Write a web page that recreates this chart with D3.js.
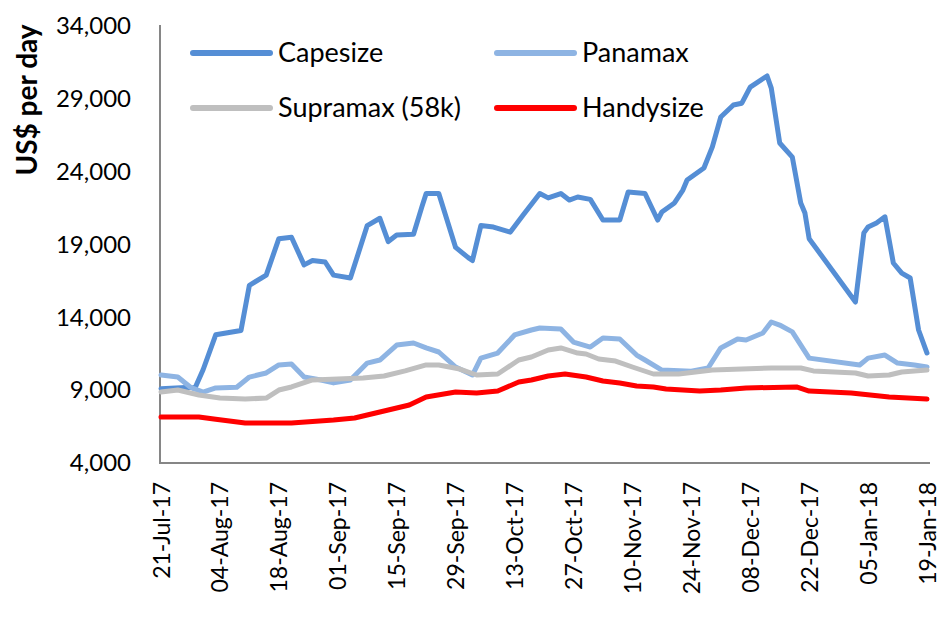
<!DOCTYPE html>
<html>
<head>
<meta charset="utf-8">
<script src="https://cdn.jsdelivr.net/npm/d3@7"></script>
<style>
	body { margin: 0; background: #fff; }
	svg { display: block; font-family: Lato, "Open Sans", sans-serif; }
</style>
</head>
<body>
<svg id="chart" width="948" height="619"></svg>
<script>
// tick labels of the category axis (every 14 days)
var xTickLabels = ["21-Jul-17", "04-Aug-17", "18-Aug-17", "01-Sep-17", "15-Sep-17", "29-Sep-17",
	"13-Oct-17", "27-Oct-17", "10-Nov-17", "24-Nov-17", "08-Dec-17", "22-Dec-17", "05-Jan-18", "19-Jan-18"];
var yTicks = [4000, 9000, 14000, 19000, 24000, 29000, 34000];

var seriesNames = ["Capesize", "Panamax", "Supramax (58k)", "Handysize"];
var seriesColors = ["#558ed5", "#8eb4e3", "#bfbfbf", "#ff0000"];

var capesize = [
	["2017-07-21", 9100], ["2017-07-28", 9200], ["2017-07-29", 9100], ["2017-07-31", 10400],
	["2017-08-03", 12800], ["2017-08-09", 13100], ["2017-08-11", 16200], ["2017-08-15", 16900],
	["2017-08-18", 19400], ["2017-08-21", 19500], ["2017-08-24", 17600], ["2017-08-26", 17900],
	["2017-08-29", 17800], ["2017-08-31", 16900], ["2017-09-04", 16700], ["2017-09-08", 20300],
	["2017-09-11", 20800], ["2017-09-13", 19200], ["2017-09-15", 19650], ["2017-09-19", 19700],
	["2017-09-21", 21600], ["2017-09-22", 22500], ["2017-09-25", 22500], ["2017-09-29", 18800],
	["2017-10-02", 18100], ["2017-10-03", 17900], ["2017-10-05", 20300], ["2017-10-08", 20200],
	["2017-10-12", 19850], ["2017-10-15", 21000], ["2017-10-19", 22500], ["2017-10-21", 22200],
	["2017-10-24", 22500], ["2017-10-26", 22050], ["2017-10-28", 22260], ["2017-10-31", 22100],
	["2017-11-03", 20680], ["2017-11-07", 20680], ["2017-11-09", 22600], ["2017-11-13", 22500],
	["2017-11-16", 20680], ["2017-11-17", 21230], ["2017-11-20", 21850], ["2017-11-22", 22740],
	["2017-11-23", 23430], ["2017-11-27", 24250], ["2017-11-29", 25700], ["2017-12-01", 27750],
	["2017-12-04", 28580], ["2017-12-06", 28700], ["2017-12-07", 29260], ["2017-12-08", 29800],
	["2017-12-12", 30570], ["2017-12-13", 29740], ["2017-12-15", 25970], ["2017-12-18", 25000],
	["2017-12-20", 21850], ["2017-12-21", 21160], ["2017-12-22", 19400], ["2018-01-02", 15050],
	["2018-01-04", 19800], ["2018-01-05", 20200], ["2018-01-07", 20480], ["2018-01-09", 20900],
	["2018-01-11", 17730], ["2018-01-13", 17040], ["2018-01-15", 16700], ["2018-01-17", 13130],
	["2018-01-19", 11550]
];

var panamax = [
	["2017-07-21", 10040], ["2017-07-25", 9900], ["2017-07-28", 9200], ["2017-07-31", 8870],
	["2017-08-03", 9150], ["2017-08-08", 9200], ["2017-08-11", 9900], ["2017-08-15", 10180],
	["2017-08-18", 10730], ["2017-08-21", 10800], ["2017-08-24", 9900], ["2017-08-28", 9700],
	["2017-08-31", 9500], ["2017-09-04", 9700], ["2017-09-08", 10860], ["2017-09-11", 11070],
	["2017-09-15", 12100], ["2017-09-19", 12240], ["2017-09-22", 11900], ["2017-09-25", 11620],
	["2017-09-29", 10590], ["2017-10-03", 10040], ["2017-10-05", 11200], ["2017-10-09", 11550],
	["2017-10-13", 12790], ["2017-10-17", 13130], ["2017-10-19", 13270], ["2017-10-24", 13200],
	["2017-10-27", 12300], ["2017-10-31", 11960], ["2017-11-03", 12580], ["2017-11-07", 12510],
	["2017-11-11", 11410], ["2017-11-13", 11070], ["2017-11-17", 10380], ["2017-11-24", 10300],
	["2017-11-28", 10520], ["2017-12-01", 11900], ["2017-12-05", 12510], ["2017-12-07", 12440],
	["2017-12-11", 12920], ["2017-12-13", 13680], ["2017-12-15", 13470], ["2017-12-18", 13000],
	["2017-12-22", 11200], ["2018-01-03", 10730], ["2018-01-05", 11200], ["2018-01-09", 11410],
	["2018-01-12", 10860], ["2018-01-16", 10730], ["2018-01-19", 10590]
];

var supramax = [
	["2017-07-21", 8870], ["2017-07-25", 9010], ["2017-07-30", 8670], ["2017-08-04", 8460],
	["2017-08-10", 8390], ["2017-08-15", 8460], ["2017-08-18", 9010], ["2017-08-21", 9220],
	["2017-08-26", 9700], ["2017-09-01", 9770], ["2017-09-07", 9840], ["2017-09-12", 9970],
	["2017-09-17", 10320], ["2017-09-22", 10730], ["2017-09-25", 10730], ["2017-09-30", 10450],
	["2017-10-04", 10040], ["2017-10-09", 10110], ["2017-10-14", 11070], ["2017-10-17", 11280],
	["2017-10-21", 11760], ["2017-10-24", 11900], ["2017-10-28", 11550], ["2017-10-30", 11480],
	["2017-11-02", 11140], ["2017-11-06", 11000], ["2017-11-10", 10590], ["2017-11-15", 10110],
	["2017-11-21", 10110], ["2017-11-29", 10380], ["2017-12-13", 10520], ["2017-12-20", 10520],
	["2017-12-23", 10320], ["2018-01-02", 10180], ["2018-01-05", 9970], ["2018-01-10", 10040],
	["2018-01-13", 10250], ["2018-01-19", 10380]
];

var handysize = [
	["2017-07-21", 7160], ["2017-07-30", 7160], ["2017-08-03", 7000], ["2017-08-10", 6750],
	["2017-08-21", 6750], ["2017-08-31", 6950], ["2017-09-05", 7090], ["2017-09-13", 7640],
	["2017-09-18", 7980], ["2017-09-22", 8530], ["2017-09-29", 8870], ["2017-10-04", 8810],
	["2017-10-09", 8940], ["2017-10-14", 9560], ["2017-10-17", 9700], ["2017-10-21", 9970],
	["2017-10-25", 10110], ["2017-10-30", 9900], ["2017-11-03", 9630], ["2017-11-07", 9490],
	["2017-11-11", 9290], ["2017-11-15", 9220], ["2017-11-18", 9080], ["2017-11-26", 8940],
	["2017-12-01", 9010], ["2017-12-07", 9150], ["2017-12-19", 9220], ["2017-12-22", 8940],
	["2018-01-01", 8800], ["2018-01-10", 8530], ["2018-01-19", 8390]
];

var parseDate = d3.timeParse("%Y-%m-%d");
var parseTick = d3.timeParse("%d-%b-%y");

var svg = d3.select("#chart");

var x = d3.scaleTime()
	.domain([parseTick(xTickLabels[0]), parseTick(xTickLabels[xTickLabels.length - 1])])
	.range([161, 927]);

var y = d3.scaleLinear()
	.domain([4000, 34000])
	.range([463, 26]);

// y axis labels
var yAxis = svg.append("g")
	.attr("transform", "translate(160,0)")
	.call(d3.axisLeft(y).tickValues(yTicks).tickSize(0).tickPadding(29).tickFormat(d3.format(",")));
yAxis.select(".domain").remove();
yAxis.selectAll("text")
	.attr("font-family", "Lato, sans-serif")
	.attr("font-size", 24)
	.attr("fill", "#000");

// x axis labels
var xAxis = svg.append("g")
	.attr("transform", "translate(0,463)")
	.call(d3.axisBottom(x)
		.tickValues(xTickLabels.map(function (s) { return parseTick(s); }))
		.tickSize(0)
		.tickFormat(function (d, i) { return xTickLabels[i]; }));
xAxis.select(".domain").remove();
xAxis.selectAll("text")
	.attr("font-family", "Lato, sans-serif")
	.attr("font-size", 23)
	.attr("fill", "#000")
	.attr("text-anchor", "end")
	.attr("dy", "0.35em")
	.attr("transform", "translate(0,19) rotate(-90)")
	.attr("x", 0)
	.attr("y", 0);

// axis lines
svg.append("line")
	.attr("x1", 160).attr("x2", 160)
	.attr("y1", y(34000) - 1).attr("y2", 464)
	.attr("stroke", "#868686").attr("stroke-width", 2);
svg.append("line")
	.attr("x1", 159).attr("x2", 930)
	.attr("y1", 463).attr("y2", 463)
	.attr("stroke", "#868686").attr("stroke-width", 2);

// y title
svg.append("text")
	.attr("transform", "translate(37,100) rotate(-90)")
	.attr("text-anchor", "middle")
	.attr("font-family", "Lato, sans-serif")
	.attr("font-weight", "bold")
	.attr("font-size", 28)
	.text("US$ per day");

var line = d3.line()
	.x(function (d) { return x(parseDate(d[0])); })
	.y(function (d) { return y(d[1]); });

var allSeries = [capesize, panamax, supramax, handysize];

svg.append("g").selectAll("path")
	.data(allSeries)
	.join("path")
	.attr("d", line)
	.attr("fill", "none")
	.attr("stroke", function (d, i) { return seriesColors[i]; })
	.attr("stroke-width", 5)
	.attr("stroke-linejoin", "round")
	.attr("stroke-linecap", "round");

// legend
var legendPos = [[193, 53], [497, 53], [193, 108], [497, 108]];
var legend = svg.append("g").selectAll("g")
	.data(seriesNames)
	.join("g")
	.attr("transform", function (d, i) { return "translate(" + legendPos[i][0] + "," + legendPos[i][1] + ")"; });
legend.append("line")
	.attr("x1", 0).attr("x2", 77)
	.attr("stroke", function (d, i) { return seriesColors[i]; })
	.attr("stroke-width", 6)
	.attr("stroke-linecap", "round");
legend.append("text")
	.attr("x", 85)
	.attr("dy", "0.35em")
	.attr("font-family", "Lato, sans-serif")
	.attr("font-size", 27)
	.text(function (d) { return d; });
</script>
</body>
</html>
